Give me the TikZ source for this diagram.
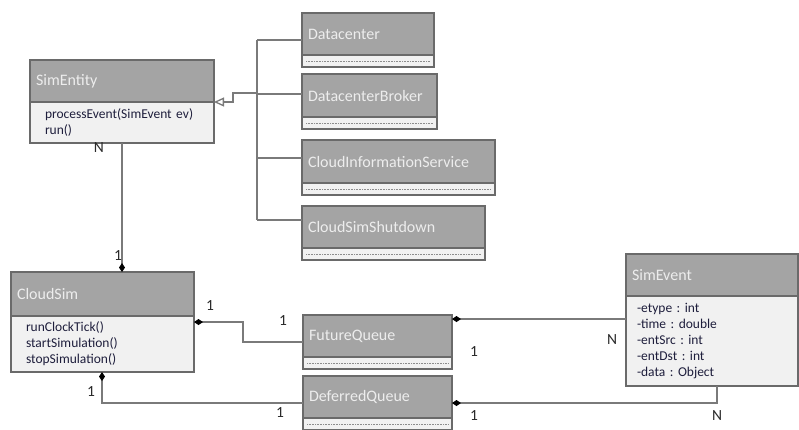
\documentclass[tikz,border=0pt]{standalone}
\usepackage{fontspec}
\setmainfont{Carlito}
\usetikzlibrary{arrows.meta,calc}
\frenchspacing

\definecolor{hdrfill}{HTML}{A4A4A4}
\definecolor{hdrtext}{HTML}{EDEDED}
\definecolor{bodyfill}{HTML}{F1F1F1}
\definecolor{bord}{HTML}{6A6A6A}
\definecolor{linec}{HTML}{7A7A7A}
\definecolor{bodytext}{HTML}{1E1E3C}
\definecolor{labtext}{HTML}{2A2A2A}

\tikzset{
  hdr/.style={draw=bord, line width=1.1pt, fill=hdrfill, text=hdrtext,
    font=\fontsize{16}{18}\selectfont, anchor=north west, inner xsep=6pt,
    inner ysep=0pt, align=left, outer sep=0pt},
  bdy/.style={draw=bord, line width=1.1pt, fill=bodyfill, text=bodytext,
    font=\fontsize{13.5}{16}\selectfont, anchor=north west, inner xsep=15pt,
    inner ysep=0pt, align=left, outer sep=0pt},
  emptycomp/.style={draw=bord, line width=1.1pt, fill=bodyfill,
    anchor=north west, inner sep=0pt, outer sep=0pt},
  dots/.style={draw=black!45, line width=0.6pt, dash pattern=on 1pt off 0.6pt},
  conn/.style={draw=linec, line width=1.3pt},
  comp/.style={conn, -{Diamond[length=9pt,width=6pt,fill=black,color=black]}},
  inh/.style={conn, -{Triangle[open,length=10pt,width=9pt,fill=white]}},
  mult/.style={text=labtext, font=\fontsize{15.5}{17}\selectfont, inner sep=0pt}
}

% class with a filled operation/attribute compartment
% #1 name, #2 x, #3 y, #4 width, #5 header height, #6 body height,
% #7 title, #8 body, #9 body indent
\newcommand\umlclass[9]{%
  \pgfmathsetlengthmacro\hdrtw{#4pt-12pt}%
  \pgfmathsetlengthmacro\bdytw{#4pt-2*#9pt}%
  \node[hdr, text width=\hdrtw, minimum height=#5pt] (#1) at (#2,#3) {#7};
  \node[bdy, inner xsep=#9pt, text width=\bdytw, minimum height=#6pt]
    (#1b) at (#1.south west) {#8};
}
% class with an empty compartment
% #1 name, #2 x, #3 y, #4 width, #5 header height, #6 title
\newcommand\umlleaf[6]{%
  \pgfmathsetlengthmacro\hdrtw{#4pt-12pt}%
  \node[hdr, text width=\hdrtw, minimum height=#5pt] (#1) at (#2,#3) {#6};
  \node[emptycomp, minimum width=#4pt, minimum height=12pt]
    (#1b) at (#1.south west) {};
  \draw[dots] ([xshift=4pt]#1b.west) -- ([xshift=-4pt]#1b.east);
}

\begin{document}
\begin{tikzpicture}[x=1pt,y=-1pt]
\useasboundingbox[fill=white] (0,0) rectangle (799,429);

% classes
\umlclass{ent}{30}{60}{184}{42}{41}{SimEntity}{processEvent(SimEvent ev)\\run()}{15}
\umlclass{cs}{11}{272}{183}{44}{56}{CloudSim}{runClockTick()\\startSimulation()\\stopSimulation()}{15}
\umlclass{se}{626}{254}{172}{42}{90}{SimEvent}{-etype : int\\-time : double\\-entSrc : int\\-entDst : int\\-data : Object}{11}

\umlleaf{dc}{302}{13}{132}{42}{Datacenter}
\umlleaf{dcb}{302}{74}{135}{43}{DatacenterBroker}
\umlleaf{cis}{302}{140}{193}{43}{CloudInformationService}
\umlleaf{css}{302}{206}{183}{42}{CloudSimShutdown}
\umlleaf{fq}{303}{315}{149}{42}{FutureQueue}
\umlleaf{dq}{303}{376}{149}{42}{DeferredQueue}

% inheritance bus
\coordinate (busTop) at (257,40);
\coordinate (busBot) at (257,220);
\coordinate (busB) at (257,94);
\coordinate (busC) at (257,158);
\coordinate (busI) at (257,93);
\draw[conn] (busTop) -- (busBot);
\draw[conn] (busTop) -- (dc.west |- busTop);
\draw[conn] (busB) -- (dcb.west |- busB);
\draw[conn] (busC) -- (cis.west |- busC);
\draw[conn] (busBot) -- (css.west |- busBot);
\draw[inh] (busI) -| ($(ent.south east)+(19,0)$) -- (ent.south east);

% SimEntity -- CloudSim
\coordinate (entdown) at ([xshift=92pt]entb.south west);
\draw[comp] (entdown) -- (entdown |- cs.north);

% CloudSim -- FutureQueue
\coordinate (fqin) at ([yshift=-27pt]fq.north west);
\coordinate (csout) at ([yshift=-6pt]csb.north east);
\draw[comp] (fqin) -| ($(csout)+(49,0)$) -- (csout);

% CloudSim -- DeferredQueue
\coordinate (dqin) at ([yshift=-27pt]dq.north west);
\coordinate (csdown) at ([xshift=91pt]csb.south west);
\draw[comp] (dqin) -| (csdown);

% queues -- SimEvent
\coordinate (fqout) at ([yshift=-4pt]fq.north east);
\draw[comp] (fqout -| seb.west) -- (fqout);
\coordinate (dqout) at ([yshift=-27pt]dq.north east);
\coordinate (sedown) at ([xshift=91pt]seb.south west);
\draw[comp] (sedown) |- (dqout);

% multiplicities
\node[mult] (mN1) at (99,148) {N};
\node[mult] (m1a) at (118,256) {1};
\node[mult] (m1b) at (210,306) {1};
\node[mult] (m1c) at (283,321) {1};
\node[mult] (m1d) at (91,392) {1};
\node[mult] (m1e) at (280,413) {1};
\node[mult] (m1f) at (474,352) {1};
\node[mult] (mN2) at (612,340) {N};
\node[mult] (m1g) at (474,416) {1};
\node[mult] (mN3) at (717,416) {N};
\end{tikzpicture}
\end{document}
